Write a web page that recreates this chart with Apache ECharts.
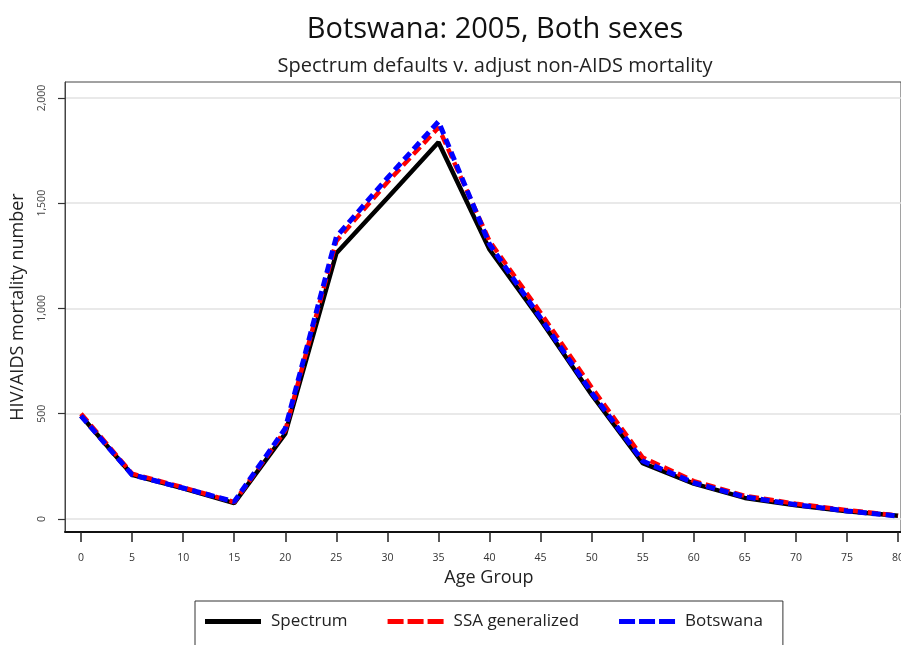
<!DOCTYPE html>
<html>
<head>
<meta charset="utf-8">
<script src="https://cdn.jsdelivr.net/npm/echarts@6/dist/echarts.min.js"></script>
<style>
  html, body { margin: 0; padding: 0; background: #fff; }
  #chart { width: 901px; height: 645px; }
</style>
</head>
<body>
<div id="chart"></div>
<script>
// Age groups (years) and HIV/AIDS deaths per group
const ageGroups = [0, 5, 10, 15, 20, 25, 30, 35, 40, 45, 50, 55, 60, 65, 70, 75, 80];
const spectrum  = [490, 210, 145, 75, 405, 1262, 1525, 1790, 1280, 945, 590, 265, 168, 100, 65, 37, 15];
const ssaGeneralized = [500, 215, 150, 80, 420, 1320, 1600, 1860, 1320, 980, 625, 292, 180, 110, 72, 42, 16];
const botswana  = [490, 210, 147, 82, 430, 1340, 1620, 1888, 1305, 955, 600, 275, 172, 105, 68, 38, 14];

const xTicks = [0, 5, 10, 15, 20, 25, 30, 35, 40, 45, 50, 55, 60, 65, 70, 75, 80];
const yTicks = [0, 500, 1000, 1500, 2000];

const seriesNames = ['Spectrum', 'SSA generalized', 'Botswana'];

const font = '"Open Sans", "Noto Sans", sans-serif';

// legend keys: a solid bar and two three-dash bars
const solidKey = 'path://M0,0h56v5h-56z';
const dashKey = 'path://M0,0h16v5h-16z M20,0h16v5h-16z M40,0h16v5h-16z';

const pairs = arr => ageGroups.map((a, i) => [a, arr[i]]);

const chart = echarts.init(document.getElementById('chart'), null, { renderer: 'canvas' });

chart.setOption({
  animation: false,
  backgroundColor: '#fff',
  title: [
    {
      text: 'Botswana: 2005, Both sexes',
      left: 490, top: 10, textAlign: 'center',
      textStyle: { fontFamily: font, fontSize: 29, fontWeight: 'normal', color: '#111' }
    },
    {
      text: 'Spectrum defaults v. adjust non-AIDS mortality',
      left: 490, top: 51, textAlign: 'center',
      textStyle: { fontFamily: font, fontSize: 20, fontWeight: 'normal', color: '#222' }
    }
  ],
  grid: {
    left: 65, top: 82, width: 836, height: 450,
    outerBoundsMode: 'none',
    containLabel: false,
    show: true, borderColor: '#444', borderWidth: 1, backgroundColor: '#fff'
  },
  legend: {
    left: 195, top: 601,
    padding: [12, 20, 30, 10],
    borderColor: '#333', borderWidth: 1,
    itemWidth: 56, itemHeight: 5, itemGap: 40,
    data: [
      { name: seriesNames[0], icon: solidKey },
      { name: seriesNames[1], icon: dashKey },
      { name: seriesNames[2], icon: dashKey }
    ],
    textStyle: { fontFamily: font, fontSize: 17, color: '#222', padding: [0, 0, 0, 5] }
  },
  xAxis: {
    type: 'value',
    min: -1.567, max: 80.29,
    name: 'Age Group',
    nameLocation: 'middle',
    nameGap: 34,
    nameTextStyle: { fontFamily: font, fontSize: 18, color: '#222', padding: [0, 0, 0, 12] },
    axisLine: { show: true, onZero: false, lineStyle: { color: '#111', width: 2 } },
    axisTick: { show: true, length: 10, inside: false, customValues: xTicks, lineStyle: { color: '#222', width: 1.5 } },
    axisLabel: { customValues: xTicks, margin: 21, fontFamily: font, fontSize: 10.5, color: '#333' },
    splitLine: { show: false }
  },
  yAxis: {
    type: 'value',
    min: -62, max: 2076,
    name: 'HIV/AIDS mortality number',
    nameLocation: 'middle',
    nameGap: 38,
    nameTextStyle: { fontFamily: font, fontSize: 18, color: '#222' },
    axisLine: { show: true, onZero: false, lineStyle: { color: '#444', width: 1 } },
    axisTick: { show: true, length: 7, customValues: yTicks, lineStyle: { color: '#333', width: 1.2 } },
    axisLabel: {
      customValues: yTicks, rotate: 90, margin: 17,
      fontFamily: font, fontSize: 10.5, color: '#444',
      formatter: v => v.toLocaleString('en-US')
    },
    splitLine: { show: true, lineStyle: { color: '#e2e2e2', width: 1.5 } }
  },
  series: [
    {
      name: seriesNames[0], type: 'line', data: pairs(spectrum),
      symbol: 'none', color: '#000',
      lineStyle: { color: '#000', width: 4.5, type: 'solid' }
    },
    {
      name: seriesNames[1], type: 'line', data: pairs(ssaGeneralized),
      symbol: 'none', color: '#ff0000',
      lineStyle: { color: '#ff0000', width: 4.5, type: [10, 5] }
    },
    {
      name: seriesNames[2], type: 'line', data: pairs(botswana),
      symbol: 'none', color: '#0000ff',
      lineStyle: { color: '#0000ff', width: 5, type: [9, 5] }
    }
  ]
});
</script>
</body>
</html>
